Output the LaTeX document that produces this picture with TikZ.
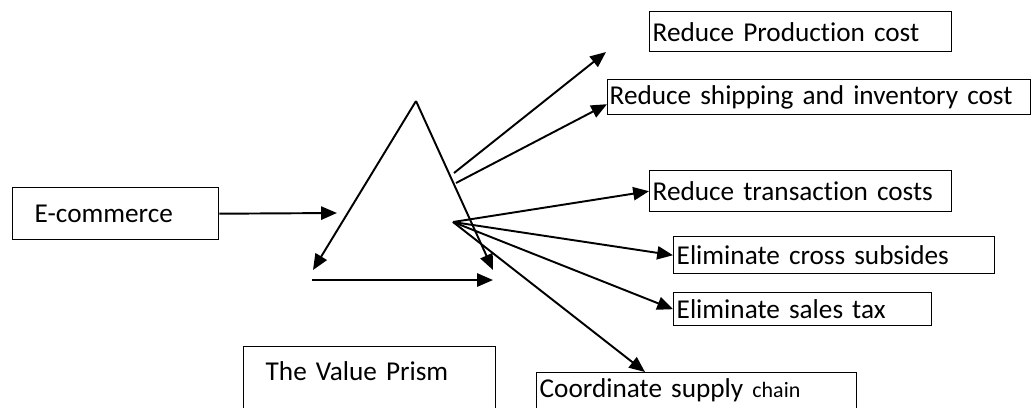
\documentclass[tikz,border=0pt]{standalone}
\usepackage{fontspec}
\setmainfont{Carlito}[Ligatures=NoCommon]
\usetikzlibrary{positioning,arrows.meta,calc}

\begin{document}
\begin{tikzpicture}
[x=0.02cm,y=-0.02cm,
box/.style={draw,line width=0.8pt,anchor=north west,inner ysep=0pt,align=left,font=\fontsize{15.5}{18}\selectfont},
arr/.style={line width=1.1pt,-{Triangle[length=9pt,width=7.5pt]}}]
\useasboundingbox (0,0) rectangle (1033,407);
\clip (0,0) rectangle (1033,407);
\node[box,inner xsep=0.44cm,text width=3.24cm,minimum height=1.04cm](e) at (12,187){E-commerce};
\node[box,inner xsep=0.06cm,text width=5.92cm,minimum height=0.8cm](p) at (649,11){Reduce Production cost};
\node[box,inner xsep=0.04cm,text width=8.38cm,minimum height=0.7cm](s) at (607,79){Reduce shipping and inventory cost};
\node[box,inner xsep=0.06cm,text width=5.92cm,minimum height=0.82cm](tr) at (649,170){Reduce transaction costs};
\node[box,inner xsep=0.06cm,text width=6.3cm,minimum height=0.74cm](c) at (673,236){Eliminate cross subsides};
\node[box,inner xsep=0.06cm,text width=5.04cm,minimum height=0.66cm](st) at (673,292){Eliminate sales tax};
\node[box,inner xsep=0.06cm,text width=6.28cm,inner ysep=0.12cm,text depth=1.2cm](co) at (536,372){Coordinate supply {\fontsize{12.5}{14}\selectfont chain}};
\node[box,inner xsep=0.44cm,text width=4.16cm,inner ysep=0.3cm,text depth=1.5cm](v) at (243,346){The Value Prism};
% prism
\coordinate (t) at (416,101);
\coordinate (bl) at (313,270);
\coordinate (br) at (493,270);
\coordinate (l) at (312,280);
\coordinate (r) at (493,280);
\coordinate (in) at (337,213);
\coordinate (u1) at (454,173);
\coordinate (u2) at (456,183);
\coordinate (f) at (453,222);
\coordinate (tp) at (606,52);
\draw[arr] (e.east) -- (in);
\draw[arr] (t) -- (bl);
\draw[arr] (t) -- (br);
\draw[arr] (l) -- (r);
\draw[arr] (u1) -- (tp);
\draw[arr] (u2) -- ($(s.west)+(0,7)$);
\draw[arr] (f) -- (tr.west);
\draw[arr] (f) -- (c.west);
\draw[arr] (f) -- (st.west);
\draw[arr] (f) -- ($(co.north west)+(109,0)$);
\end{tikzpicture}
\end{document}
